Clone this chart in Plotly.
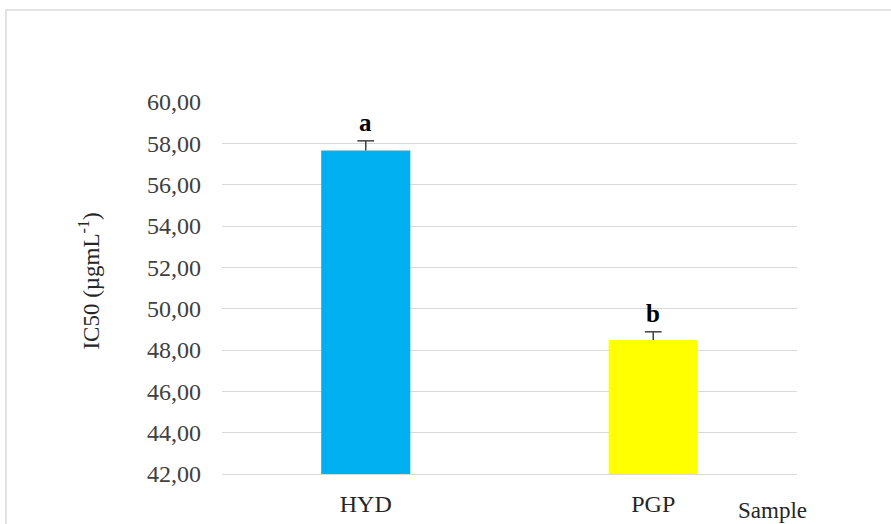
import plotly.graph_objects as go

samples = ["HYD", "PGP"]
ic50 = [57.65, 48.48]
errors = [0.47, 0.40]
letters = ["a", "b"]
bar_colors = ["#00B0F0", "#FFFF00"]
y_ticks = [42, 44, 46, 48, 50, 52, 54, 56, 58, 60]

serif = "Liberation Serif, Times New Roman, serif"
err_color = "#404040"
tops = [v + e for v, e in zip(ic50, errors)]

fig = go.Figure()
fig.add_trace(go.Bar(
    x=samples, y=ic50,
    marker=dict(color=bar_colors, line=dict(width=0)),
    width=0.31,
    showlegend=False,
))
# upper-only error bar: stem drawn downward from the cap to the bar top
fig.add_trace(go.Scatter(
    x=samples, y=tops, mode="markers",
    marker=dict(symbol="line-ew", size=12, line=dict(width=1.5, color=err_color)),
    error_y=dict(type="data", symmetric=False, array=[0 for _ in errors],
                 arrayminus=errors, visible=True, color=err_color,
                 thickness=1.5, width=0),
    showlegend=False, hoverinfo="skip",
))

for s, t, l in zip(samples, tops, letters):
    fig.add_annotation(x=s, y=t, text="<b>%s</b>" % l, showarrow=False,
                       yanchor="bottom", yshift=3,
                       font=dict(family=serif, size=25, color="#000000"))

fig.add_annotation(x=0.958, y=-0.098, xref="paper", yref="paper",
                   text="Sample", showarrow=False, xanchor="center", yanchor="middle",
                   font=dict(family=serif, size=23, color="#262626"))

fig.add_annotation(x=-0.2296, y=0.52, xref="paper", yref="paper",
                   text="IC50 (µgmL<sup>-1</sup>)", textangle=-90, showarrow=False,
                   xanchor="center", yanchor="middle",
                   font=dict(family=serif, size=23, color="#262626"))

# outer chart frame
fig.add_shape(type="rect", xref="paper", yref="paper",
              x0=(6 - 222) / 575, x1=(900 - 222) / 575,
              y0=(474 - 540) / 372, y1=(474 - 10) / 372,
              line=dict(color="#D9D9D9", width=1.5), layer="below")

fig.update_layout(
    width=891, height=524,
    margin=dict(l=222, r=94, t=102, b=50),
    paper_bgcolor="white", plot_bgcolor="white",
    separators=",.",
    bargap=0.69,
    xaxis=dict(showline=True, linecolor="#D9D9D9", linewidth=1.2,
               ticks="", showgrid=False, automargin=False,
               tickfont=dict(family=serif, size=24, color="#262626"),
               ticklabelstandoff=8),
    yaxis=dict(range=[42, 60], tickvals=y_ticks, tickformat=".2f",
               showgrid=True, gridcolor="#D9D9D9", gridwidth=1.2,
               zeroline=False, showline=False, ticks="", automargin=False,
               tickfont=dict(family=serif, size=24, color="#404040"),
               ticklabelstandoff=20),
)

fig.write_html("out.html")
